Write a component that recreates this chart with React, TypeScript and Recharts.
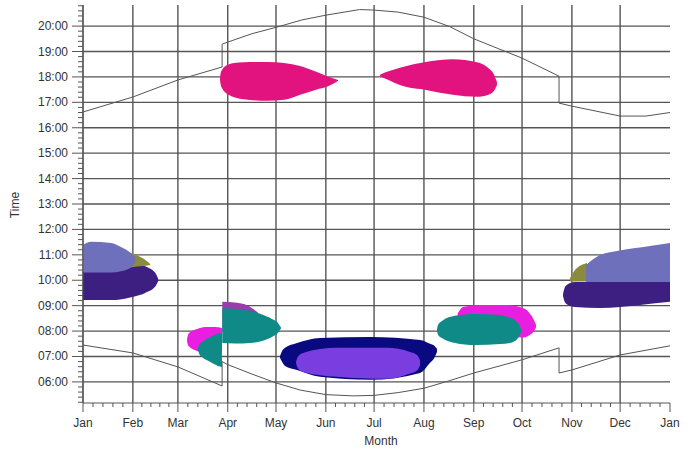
import React from 'react';
import { Area, CartesianGrid, ComposedChart, Line, XAxis, YAxis } from 'recharts';

// Axis layout: x = day of year, y = clock hour
const monthLabels = ['Jan', 'Feb', 'Mar', 'Apr', 'May', 'Jun', 'Jul', 'Aug', 'Sep', 'Oct', 'Nov', 'Dec', 'Jan'];
const monthStarts = [0, 31, 59, 90, 120, 151, 181, 212, 243, 273, 304, 334, 365];
const hourTicks = [6, 7, 8, 9, 10, 11, 12, 13, 14, 15, 16, 17, 18, 19, 20];

// Sunset / sunrise [day, hour]; the vertical steps are the clock changes
const sunset: [number, number][] = [
  [0, 16.62], [31, 17.21], [59, 17.88], [86.5, 18.39], [86.5, 19.29], [90, 19.37], [105, 19.7],
  [120, 19.95], [136, 20.24], [151, 20.43], [172, 20.65], [181, 20.63], [196, 20.55], [212, 20.35],
  [228, 19.98], [243, 19.5], [258, 19.12], [273, 18.74], [296, 18.03], [296, 16.97], [304, 16.85],
  [334, 16.46], [350, 16.46], [365, 16.6],
];
const sunrise: [number, number][] = [
  [0, 7.45], [31, 7.14], [59, 6.59], [86.5, 5.84], [86.5, 6.8], [90, 6.68], [105, 6.31], [120, 5.96],
  [135, 5.68], [151, 5.5], [168, 5.45], [181, 5.47], [196, 5.58], [212, 5.75], [228, 6.05],
  [243, 6.35], [273, 6.87], [296, 7.34], [296, 6.35], [304, 6.47], [334, 7.06], [365, 7.42],
];

// Glare periods [day, from hour, to hour]
const pinkSpring: [number, number, number][] = [
  [85.2, 17.88, 17.96], [85.6, 17.7, 18.14], [86.5, 17.55, 18.28], [88, 17.42, 18.4], [90.5, 17.3, 18.49],
  [94, 17.2, 18.55], [100, 17.12, 18.58], [115, 17.06, 18.59], [125, 17.1, 18.55], [135, 17.3, 18.43],
  [145, 17.5, 18.2], [152, 17.62, 18.02], [158.6, 17.85, 17.88],
];
const pinkSummer: [number, number, number][] = [
  [184.7, 18.03, 18.09], [190, 17.88, 18.22], [197, 17.68, 18.36], [214, 17.48, 18.6], [230, 17.3, 18.7],
  [245, 17.22, 18.58], [252, 17.3, 18.35], [255.5, 17.45, 18.1], [257.4, 17.68, 17.8],
];
const magentaMar: [number, number, number][] = [
  [64.7, 7.6, 7.7], [65.3, 7.45, 7.85], [66.5, 7.36, 7.95], [70.9, 7.22, 8.08], [75.9, 7.14, 8.16],
  [82.1, 7.14, 8.16], [86.4, 7.18, 8.12],
];
const tealMar: [number, number, number][] = [
  [71.5, 7.26, 7.34], [72.3, 7.1, 7.48], [74, 6.98, 7.57], [79, 6.79, 7.77], [83.9, 6.63, 7.89],
  [86.4, 6.59, 7.93],
];
const violetApr: [number, number, number][] = [
  [86.6, 8.0, 9.15], [94.5, 8.0, 9.12], [102.6, 8.0, 9.0], [108.8, 8.0, 8.72],
];
const tealApr: [number, number, number][] = [
  [86.6, 7.53, 8.9], [94.5, 7.51, 8.88], [103.8, 7.53, 8.8], [111.3, 7.61, 8.65], [117.5, 7.77, 8.48],
  [121.3, 7.93, 8.32], [123.1, 8.1, 8.14],
];
const magentaSep: [number, number, number][] = [
  [233, 8.45, 8.7], [236.3, 8.1, 8.95], [246.9, 7.9, 9.03], [262.4, 7.8, 9.03], [274, 7.75, 8.9],
  [277.7, 7.85, 8.7], [280.5, 8.0, 8.42], [281.7, 8.15, 8.25],
];
const tealSep: [number, number, number][] = [
  [220.1, 8.0, 8.08], [220.8, 7.85, 8.25], [223.2, 7.73, 8.4], [231.3, 7.53, 8.6], [243.8, 7.45, 8.67],
  [259.3, 7.49, 8.63], [265.5, 7.53, 8.52], [270.5, 7.73, 8.32], [272.4, 7.95, 8.1],
];
const navySummer: [number, number, number][] = [
  [122.5, 6.95, 7.02], [123.5, 6.82, 7.18], [125.6, 6.63, 7.34], [133.1, 6.47, 7.53], [147.4, 6.2, 7.73],
  [178.5, 6.08, 7.77], [209.6, 6.35, 7.65], [215.8, 6.75, 7.5], [218.5, 6.95, 7.42], [220.1, 7.18, 7.3],
];
const purpleSummer: [number, number, number][] = [
  [132.5, 6.72, 6.8], [133.5, 6.55, 6.98], [136.8, 6.39, 7.14], [157.9, 6.2, 7.34], [189, 6.12, 7.34],
  [203.3, 6.33, 7.18], [207.7, 6.45, 7.06], [209.6, 6.65, 6.85],
];
const darkJan: [number, number, number][] = [
  [0, 9.22, 10.4], [20, 9.22, 10.45], [28, 9.3, 10.6], [32, 9.36, 10.7], [38.6, 9.5, 10.55],
  [44.8, 9.74, 10.3], [46.8, 9.97, 10.05],
];
const oliveJan: [number, number, number][] = [
  [29.5, 10.5, 11.07], [35.5, 10.55, 10.92], [40, 10.58, 10.74], [41.8, 10.6, 10.64],
];
const lavenderJan: [number, number, number][] = [
  [0, 10.3, 11.39], [5, 10.3, 11.51], [17.4, 10.3, 11.47], [23.6, 10.35, 11.31], [29.8, 10.5, 11.07],
  [32.5, 10.7, 10.9],
];
const darkDec: [number, number, number][] = [
  [298.5, 9.38, 9.46], [299.5, 9.15, 9.7], [301, 9.05, 9.82], [305.9, 8.95, 9.93], [321.5, 8.91, 9.93],
  [346.4, 9.03, 9.93], [365, 9.15, 9.93],
];
const oliveDec: [number, number, number][] = [
  [302.8, 9.95, 10.08], [305.9, 9.95, 10.4], [313.4, 9.95, 10.68],
];
const lavenderDec: [number, number, number][] = [
  [312.8, 9.93, 10.6], [321.5, 9.93, 10.99], [332.1, 9.93, 11.15], [352.6, 9.93, 11.35], [365, 9.93, 11.47],
];

const GRID = '#555';
const TEXT = '#333';
const FONT = '"Liberation Sans", Arial, sans-serif';

// draw order matters: later ones sit on top
const blobs = [
  { key: 'pinkSpring', data: pinkSpring, color: '#e2137f' },
  { key: 'pinkSummer', data: pinkSummer, color: '#e2137f' },
  { key: 'magentaMar', data: magentaMar, color: '#ea1ee0' },
  { key: 'tealMar', data: tealMar, color: '#0f8a86' },
  { key: 'violetApr', data: violetApr, color: '#9a3cae' },
  { key: 'tealApr', data: tealApr, color: '#0f8a86' },
  { key: 'magentaSep', data: magentaSep, color: '#ea1ee0' },
  { key: 'tealSep', data: tealSep, color: '#0f8a86' },
  { key: 'navySummer', data: navySummer, color: '#0a0a80' },
  { key: 'purpleSummer', data: purpleSummer, color: '#7a3ee0' },
  { key: 'darkJan', data: darkJan, color: '#3c1f80' },
  { key: 'oliveJan', data: oliveJan, color: '#8a8c3c' },
  { key: 'lavenderJan', data: lavenderJan, color: '#6e70bc' },
  { key: 'darkDec', data: darkDec, color: '#3c1f80' },
  { key: 'oliveDec', data: oliveDec, color: '#8a8c3c' },
  { key: 'lavenderDec', data: lavenderDec, color: '#6e70bc' },
];

const curves = [
  { key: 'sunset', data: sunset },
  { key: 'sunrise', data: sunrise },
];

// one row per point; each series only fills its own key, gaps are skipped via connectNulls
const rows: Record<string, any>[] = [];
blobs.forEach((b) => b.data.forEach(([d, lo, hi]) => rows.push({ day: d, [b.key]: [lo, hi] })));
curves.forEach((c) => c.data.forEach(([d, h]) => rows.push({ day: d, [c.key]: h })));
rows.sort((a, b) => a.day - b.day);

// minor ticks: 5 per month, 5 per hour
const xTicks: number[] = [];
monthStarts.slice(0, -1).forEach((m, i) => {
  const step = (monthStarts[i + 1] - m) / 5;
  for (let k = 0; k < 5; k++) xTicks.push(k === 0 ? m : m + step * k);
});
xTicks.push(365);
const Y_MIN = 5.17;
const Y_MAX = 20.83;
const yTicks: number[] = [];
for (let t = 5.2; t <= Y_MAX + 1e-6; t += 0.2) yTicks.push(Math.round(t * 10) / 10);

const pad = (h: number) => `${h < 10 ? '0' : ''}${h}:00`;

function MonthTick(props: any) {
  const { x, y, payload } = props;
  const i = monthStarts.indexOf(payload.value);
  const major = i >= 0;
  return (
    <g>
      <line x1={x} x2={x} y1={y} y2={y + (major ? 9 : 4)} stroke={GRID} />
      {major && (
        <text x={x} y={y + 24} textAnchor="middle" fill={TEXT} fontSize={12} fontFamily={FONT}>
          {monthLabels[i]}
        </text>
      )}
    </g>
  );
}

function HourTick(props: any) {
  const { x, y, payload } = props;
  const major = hourTicks.includes(payload.value);
  return (
    <g>
      <line x1={x - (major ? 11 : 5)} x2={x} y1={y} y2={y} stroke={GRID} />
      {major && (
        <text x={x - 15} y={y + 4} textAnchor="end" fill={TEXT} fontSize={12} fontFamily={FONT}>
          {pad(payload.value)}
        </text>
      )}
    </g>
  );
}

export default function App() {
  return (
    <div style={{ position: 'absolute', left: 0, top: 0, width: 696, height: 452, background: '#fff' }}>
      <ComposedChart width={696} height={452} data={rows} margin={{ top: 5, right: 26, bottom: 19, left: 15 }}>
        <CartesianGrid
          stroke={GRID}
          strokeWidth={1.4}
          horizontalValues={hourTicks}
          verticalValues={monthStarts.slice(0, -1)}
        />
        <XAxis
          dataKey="day"
          type="number"
          domain={[0, 365]}
          allowDataOverflow
          ticks={xTicks}
          interval={0}
          tickSize={0}
          tickMargin={0}
          tickLine={false}
          stroke={GRID}
          height={30}
          tick={MonthTick}
        />
        <YAxis
          type="number"
          domain={[Y_MIN, Y_MAX]}
          allowDataOverflow
          ticks={yTicks}
          interval={0}
          tickSize={0}
          tickMargin={0}
          tickLine={false}
          stroke={GRID}
          width={68}
          tick={HourTick}
        />
        {blobs.map((b) => (
          <Area
            key={b.key}
            dataKey={b.key}
            type="monotone"
            stroke="none"
            fill={b.color}
            fillOpacity={1}
            connectNulls
            dot={false}
            activeDot={false}
            isAnimationActive={false}
          />
        ))}
        {curves.map((c) => (
          <Line
            key={c.key}
            dataKey={c.key}
            type="linear"
            stroke="#555"
            strokeWidth={1}
            connectNulls
            dot={false}
            activeDot={false}
            isAnimationActive={false}
          />
        ))}
      </ComposedChart>
      <div
        style={{
          position: 'absolute', left: -5, top: 198, width: 40, textAlign: 'center',
          transform: 'rotate(-90deg)', font: `12px ${FONT}`, color: TEXT,
        }}
      >
        Time
      </div>
      <div
        style={{
          position: 'absolute', left: 351, top: 434, width: 60, textAlign: 'center',
          font: `12px ${FONT}`, color: TEXT,
        }}
      >
        Month
      </div>
    </div>
  );
}
